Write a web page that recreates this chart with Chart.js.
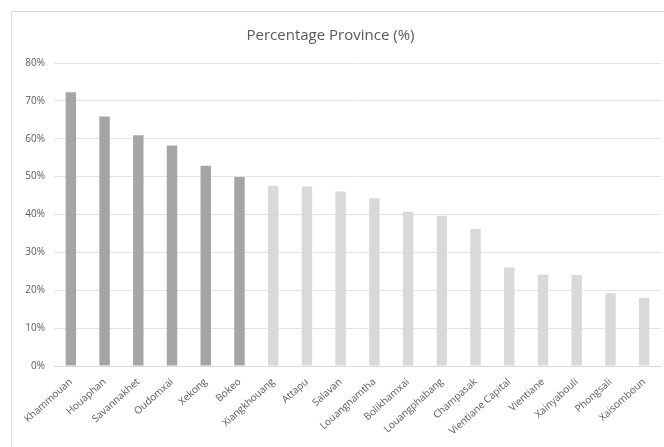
<!DOCTYPE html>
<html>
<head>
<meta charset="utf-8">
<script src="https://cdn.jsdelivr.net/npm/chart.js@4/dist/chart.umd.min.js"></script>
<style>
  html, body { margin: 0; padding: 0; background: #fff; }
  .wrap { position: relative; width: 664px; height: 447px; }
  .frame { position: absolute; left: 11px; top: 11px; right: -2px; bottom: -2px; border: 1px solid #d9d9d9; }
  canvas { position: absolute; left: 0; top: 0; }
</style>
</head>
<body>
<div class="wrap">
  <div class="frame"></div>
  <canvas id="bar-chart" width="664" height="447"></canvas>
</div>
<script>
// provinces, sorted as in the picture
const provinces = ["Khammouan", "Houaphan", "Savannakhet", "Oudomxai", "Xekong", "Bokeo",
  "Xiangkhouang", "Attapu", "Salavan", "Louangnamtha", "Bolikhamxai", "Louangphabang",
  "Champasak", "Vientiane Capital", "Vientiane", "Xainyabouli", "Phongsali", "Xaisomboun"]
const percent = [72.3, 65.9, 60.9, 58.2, 52.9, 49.9,
  47.6, 47.4, 46.1, 44.3, 40.7, 39.7,
  36.2, 26.0, 24.1, 24.0, 19.2, 18.0]
const yTicks = [0, 10, 20, 30, 40, 50, 60, 70, 80]

const dark = "#a5a5a5"
const light = "#d9d9d9"
const textCol = "#595959"
const font = "'Open Sans', sans-serif"

let colors = percent.map((v, i) => i < 6 ? dark : light)

new Chart(document.getElementById("bar-chart"), {
  type: 'bar',
  data: {
    labels: provinces,
    datasets: [{
      label: "Percentage Province (%)",
      data: percent,
      backgroundColor: colors,
      barPercentage: 0.62,
      categoryPercentage: 0.5
    }]
  },
  options: {
    responsive: false,
    animation: false,
    layout: { padding: { left: 0, right: 3, top: 0, bottom: 0 } },
    plugins: {
      legend: { display: false },
      tooltip: { enabled: false },
      title: {
        display: true,
        text: 'Percentage Province (%)',
        color: textCol,
        font: { family: font, size: 15, weight: 'normal' },
        padding: { top: 27, bottom: 18 }
      }
    },
    scales: {
      x: {
        grid: { display: false },
        border: { color: "#d9d9d9" },
        ticks: {
          color: textCol,
          font: { family: font, size: 10 },
          minRotation: 42,
          maxRotation: 42,
          autoSkip: false,
          padding: 2
        },
        afterFit: s => { s.height = 81 }
      },
      y: {
        min: 0,
        max: 80,
        afterBuildTicks: s => { s.ticks = yTicks.map(v => ({ value: v })) },
        grid: { color: "#e3e3e3", drawTicks: false },
        border: { display: false },
        ticks: {
          color: textCol,
          font: { family: font, size: 10 },
          padding: 9,
          callback: v => v + '%'
        },
        afterFit: s => { s.width = 54 }
      }
    }
  }
})
</script>
</body>
</html>
